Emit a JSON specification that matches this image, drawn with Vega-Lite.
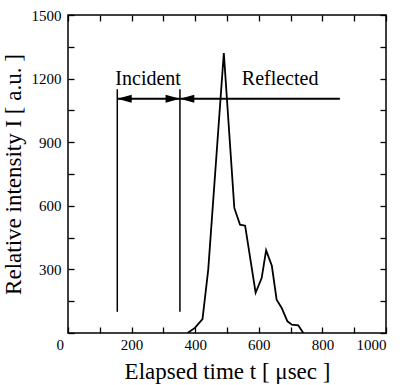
{
  "$schema": "https://vega.github.io/schema/vega-lite/v6.json",
  "width": 318,
  "height": 318,
  "autosize": "none",
  "padding": {"left": 68, "top": 15, "right": 16, "bottom": 52},
  "background": "white",
  "config": {
    "view": {"stroke": "black", "strokeWidth": 1.5},
    "font": "'Liberation Serif', 'Times New Roman', serif",
    "text": {"font": "'Liberation Serif', 'Times New Roman', serif"},
    "axis": {
      "domain": false,
      "grid": false,
      "offset": -6,
      "tickColor": "black",
      "tickSize": 6,
      "tickWidth": 1.3,
      "labelFont": "'Liberation Serif', 'Times New Roman', serif",
      "labelFontSize": 15,
      "labelColor": "black",
      "labelPadding": 4,
      "titleFont": "'Liberation Serif', 'Times New Roman', serif",
      "titleFontSize": 23,
      "titleFontWeight": "normal",
      "titleColor": "black"
    }
  },
  "datasets": {
    "curve": [
      {"t": 376, "I": 0},
      {"t": 399, "I": 24},
      {"t": 423, "I": 66},
      {"t": 441, "I": 299},
      {"t": 490, "I": 1321},
      {"t": 523, "I": 590},
      {"t": 541, "I": 511},
      {"t": 557, "I": 506},
      {"t": 590, "I": 190},
      {"t": 609, "I": 259},
      {"t": 623, "I": 390},
      {"t": 641, "I": 317},
      {"t": 656, "I": 157},
      {"t": 672, "I": 118},
      {"t": 690, "I": 55},
      {"t": 704, "I": 39},
      {"t": 724, "I": 36},
      {"t": 740, "I": 0}
    ],
    "vlines": [
      {"t": 155, "I1": 100, "I2": 1150},
      {"t": 352, "I1": 100, "I2": 1150}
    ],
    "arrows": [
      {"t1": 155, "t2": 352, "I": 1105},
      {"t1": 352, "t2": 855, "I": 1105}
    ],
    "heads": [
      {"t": 155, "I": 1105, "dir": "left"},
      {"t": 352, "I": 1105, "dir": "right"},
      {"t": 352, "I": 1105, "dir": "left"}
    ],
    "labels": [
      {"t": 252, "I": 1200, "text": "Incident"},
      {"t": 667, "I": 1200, "text": "Reflected"}
    ]
  },
  "layer": [
    {
      "data": {"name": "curve"},
      "mark": {"type": "line", "color": "black", "strokeWidth": 1.8, "clip": true},
      "encoding": {
        "x": {
          "field": "t", "type": "quantitative",
          "scale": {"domain": [0, 1000], "nice": false},
          "axis": {
            "orient": "bottom",
            "values": [0, 100, 200, 300, 400, 500, 600, 700, 800, 900, 1000],
            "labelExpr": "datum.value % 200 == 0 ? datum.label : ''",
            "format": "d",
            "labelOffset": {"condition": {"test": "datum.value == 0", "value": -12}, "value": 0},
            "title": "Elapsed time t [ μsec ]",
            "titlePadding": 8
          }
        },
        "y": {
          "field": "I", "type": "quantitative",
          "scale": {"domain": [0, 1500], "nice": false},
          "axis": {
            "orient": "left",
            "values": [0, 150, 300, 450, 600, 750, 900, 1050, 1200, 1350, 1500],
            "labelExpr": "datum.value % 300 == 0 && datum.value > 0 ? datum.label : ''",
            "format": "d",
            "labelPadding": 7,
            "title": "Relative intensity I [ a.u. ]",
            "titlePadding": 6
          }
        }
      }
    },
    {
      "data": {"name": "vlines"},
      "mark": {"type": "rule", "color": "black", "strokeWidth": 1.5},
      "encoding": {
        "x": {
          "field": "t", "type": "quantitative",
          "axis": {
            "orient": "top",
            "values": [0, 100, 200, 300, 400, 500, 600, 700, 800, 900, 1000],
            "labels": false,
            "title": null
          }
        },
        "y": {
          "field": "I1", "type": "quantitative",
          "axis": {
            "orient": "right",
            "values": [0, 150, 300, 450, 600, 750, 900, 1050, 1200, 1350, 1500],
            "labels": false,
            "title": null
          }
        },
        "y2": {"field": "I2"}
      }
    },
    {
      "data": {"name": "arrows"},
      "mark": {"type": "rule", "color": "black", "strokeWidth": 2},
      "encoding": {
        "x": {"field": "t1", "type": "quantitative", "axis": null},
        "x2": {"field": "t2"},
        "y": {"field": "I", "type": "quantitative", "axis": null}
      }
    },
    {
      "data": {"name": "heads"},
      "mark": {"type": "point", "filled": true, "color": "black", "opacity": 1, "size": 64, "strokeWidth": 0},
      "encoding": {
        "x": {"field": "t", "type": "quantitative", "axis": null},
        "y": {"field": "I", "type": "quantitative", "axis": null},
        "shape": {
          "field": "dir", "type": "nominal",
          "scale": {"domain": ["left", "right"], "range": ["M0,0L3.6,-1L3.6,1Z", "M0,0L-3.6,-1L-3.6,1Z"]},
          "legend": null
        }
      }
    },
    {
      "data": {"name": "labels"},
      "mark": {"type": "text", "fontSize": 20, "color": "black", "baseline": "middle", "align": "center"},
      "encoding": {
        "x": {"field": "t", "type": "quantitative", "axis": null},
        "y": {"field": "I", "type": "quantitative", "axis": null},
        "text": {"field": "text"}
      }
    }
  ],
  "resolve": {"axis": {"x": "independent", "y": "independent"}}
}
